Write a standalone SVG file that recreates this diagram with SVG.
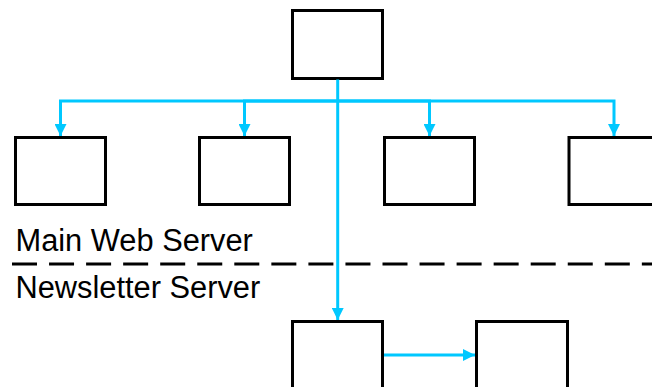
<svg xmlns="http://www.w3.org/2000/svg" width="652" height="387" viewBox="0 0 652 387">
  <style>
    .box { fill: #ffffff; stroke: #000000; stroke-width: 3; }
    .wire { fill: none; stroke: #00c8ff; stroke-width: 3; }
    .arrow { marker-end: url(#head); }
    .label { font-family: "Liberation Sans", Arial, sans-serif; font-size: 30.8px; fill: #000000; }
    .divider { stroke: #000000; stroke-width: 3; stroke-dasharray: 25 12.05; }
  </style>
  <defs>
    <marker id="head" markerUnits="userSpaceOnUse" markerWidth="12" markerHeight="12" refX="12" refY="6" orient="auto">
      <path d="M0,0 L12,6 L0,12 z" fill="#00c8ff"/>
    </marker>
  </defs>

  <rect width="652" height="387" fill="#ffffff"/>

  <!-- boundary between the two servers -->
  <line class="divider" x1="12" y1="264" x2="652" y2="264"/>
  <text class="label" x="15.5" y="250.5">Main Web Server</text>
  <text class="label" x="15.5" y="298">Newsletter Server</text>

  <!-- nodes -->
  <g id="root"><rect class="box" x="292.5" y="10.5" width="90" height="68"/></g>
  <g id="page1"><rect class="box" x="15.5" y="137.5" width="90" height="67"/></g>
  <g id="page2"><rect class="box" x="199.5" y="137.5" width="90" height="67"/></g>
  <g id="page3"><rect class="box" x="384.5" y="137.5" width="90" height="67"/></g>
  <g id="page4"><rect class="box" x="569" y="137.5" width="90" height="67"/></g>
  <g id="signup"><rect class="box" x="292.5" y="321.5" width="90" height="80"/></g>
  <g id="confirm"><rect class="box" x="476.5" y="321.5" width="91" height="80"/></g>

  <!-- connectors -->
  <g id="connectors">
    <path class="wire arrow" d="M337.7,101 H60.5 V136"/>
    <path class="wire arrow" d="M337.7,101 H244.5 V136"/>
    <path class="wire arrow" d="M337.7,101 H429.5 V136"/>
    <path class="wire arrow" d="M337.7,101 H614 V136"/>
    <path class="wire arrow" d="M337.7,79.5 V320"/>
    <path class="wire arrow" d="M384,355 H475"/>
  </g>
</svg>
